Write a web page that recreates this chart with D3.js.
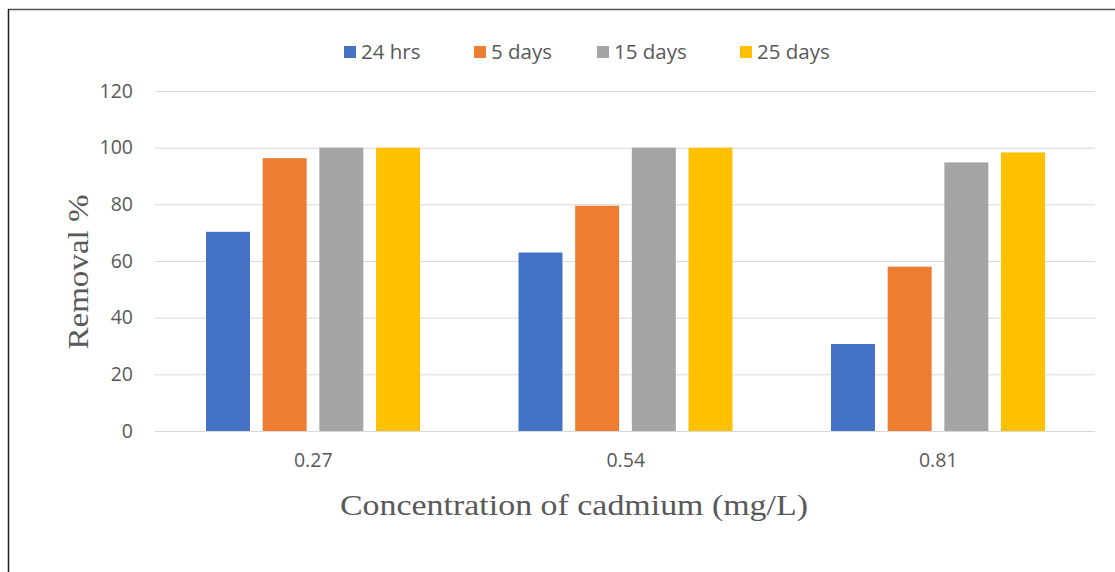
<!DOCTYPE html>
<html><head><meta charset="utf-8">
<script src="https://cdn.jsdelivr.net/npm/d3@7"></script>
<style>body{margin:0;background:#fff}svg{display:block}</style>
</head><body>
<svg id="c" width="1115" height="572"></svg>
<script>
const categories = ["0.27", "0.54", "0.81"];
const seriesNames = ["24 hrs", "5 days", "15 days", "25 days"];
const hrs24 = [70.3, 63, 30.7];
const days5 = [96.3, 79.5, 58];
const days15 = [100, 100, 94.8];
const days25 = [100, 100, 98.3];
const yTicks = [0, 20, 40, 60, 80, 100, 120];
const colors = ["#4472C4", "#ED7D31", "#A5A5A5", "#FFC000"];
const seriesValues = [hrs24, days5, days15, days25];

const svg = d3.select("#c");
// frame
svg.append("line").attr("x1",8).attr("x2",1115).attr("y1",9.5).attr("y2",9.5).attr("stroke","#555").attr("stroke-width",1.5);
svg.append("line").attr("x1",8.5).attr("x2",8.5).attr("y1",9).attr("y2",572).attr("stroke","#222").attr("stroke-width",1.5);

const x0 = d3.scaleBand().domain(categories).range([157, 1094.5]).paddingInner(0).paddingOuter(0);
const x1 = d3.scaleBand().domain(seriesNames).range([49, 263]).paddingInner(0.224).paddingOuter(0);
const y = d3.scaleLinear().domain([0, 120]).range([431, 91]);

const tickFont = "Open Sans, Liberation Sans, sans-serif";
const yAxis = d3.axisLeft(y).tickValues(yTicks).tickSize(-(1095-155)).tickPadding(22);
const gy = svg.append("g").attr("transform","translate(155,0)").call(yAxis);
gy.select(".domain").remove();
gy.selectAll(".tick line").attr("stroke","#d9d9d9").attr("stroke-width",1);
gy.selectAll(".tick text").attr("fill","#595959").attr("font-family",tickFont).attr("font-size",19.5);

const groups = svg.append("g").selectAll("g").data(categories).join("g")
  .attr("transform", d => `translate(${x0(d)},0)`);
groups.selectAll("rect").data((d,i) => seriesNames.map((s,j) => ({s, v: seriesValues[j][i], c: colors[j]})))
  .join("rect")
  .attr("x", d => x1(d.s)).attr("width", x1.bandwidth())
  .attr("y", d => y(d.v)).attr("height", d => y(0) - y(d.v))
  .attr("fill", d => d.c);

const xAxis = d3.axisBottom(x0).tickSize(0).tickPadding(22);
const gx = svg.append("g").attr("transform","translate(0,431)").call(xAxis);
gx.select(".domain").remove();
gx.selectAll(".tick text").attr("fill","#595959").attr("font-family",tickFont).attr("font-size",19.5);

// axis titles
svg.append("text").attr("transform","translate(88,272) rotate(-90)").attr("text-anchor","middle")
  .attr("font-family","Liberation Serif, Times New Roman, serif").attr("font-size",30).attr("fill","#595959")
  .attr("textLength",155).attr("lengthAdjust","spacingAndGlyphs").text("Removal %");
svg.append("text").attr("x",574).attr("y",515).attr("text-anchor","middle")
  .attr("font-family","Liberation Serif, Times New Roman, serif").attr("font-size",30).attr("fill","#595959")
  .attr("textLength",468).attr("lengthAdjust","spacingAndGlyphs").text("Concentration of cadmium (mg/L)");

// legend
const legX = [344, 474, 597, 740];
const leg = svg.append("g").selectAll("g").data(seriesNames).join("g")
  .attr("transform", (d,i) => `translate(${legX[i]},46)`);
leg.append("rect").attr("width",12).attr("height",12).attr("fill",(d,i)=>colors[i]);
leg.append("text").attr("x",17).attr("y",13).attr("fill","#595959")
  .attr("font-family",tickFont).attr("font-size",20.5).text(d=>d);
</script>
</body></html>
